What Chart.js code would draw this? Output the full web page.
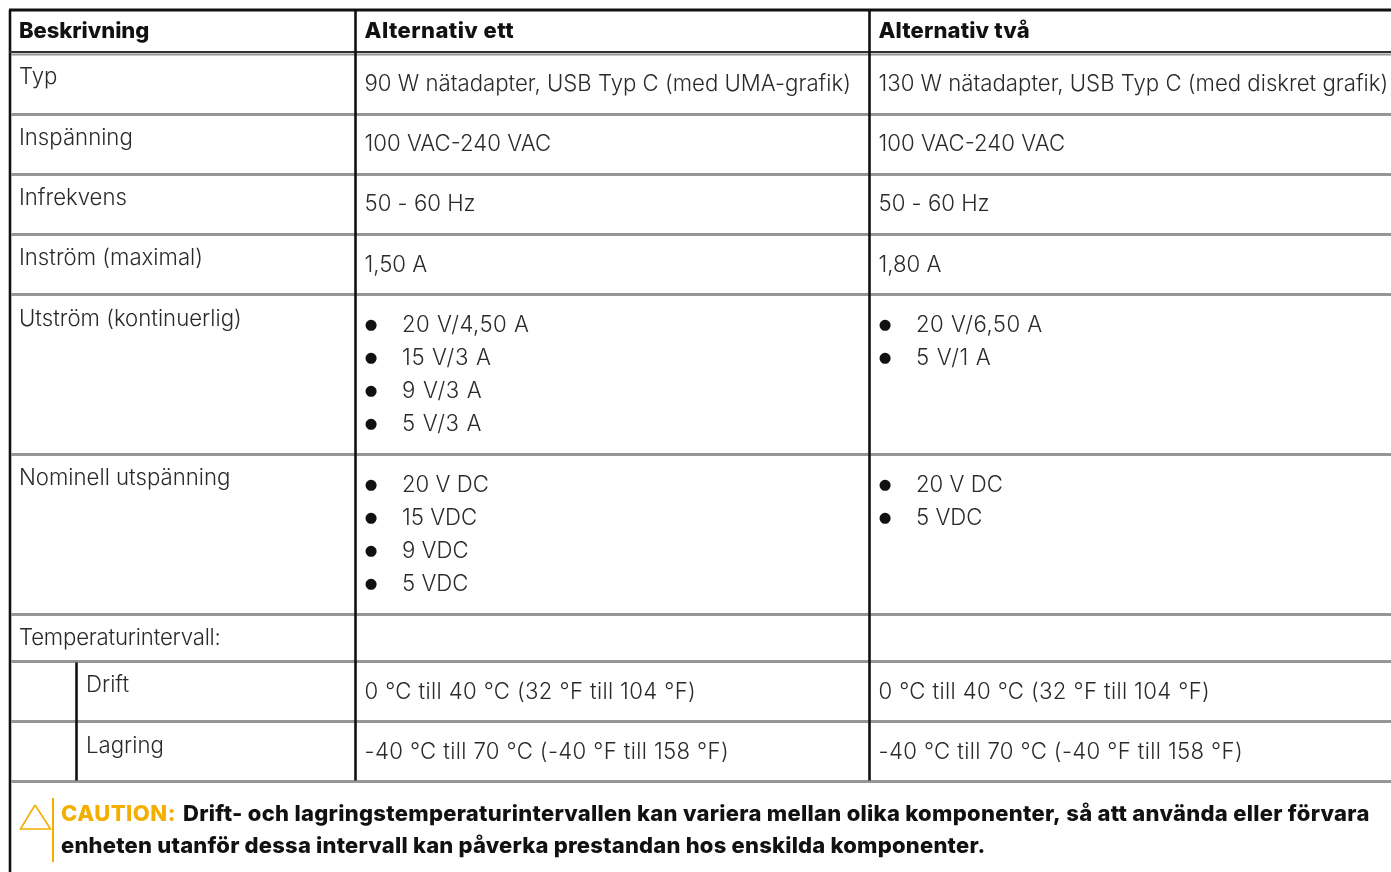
<!DOCTYPE html>
<html lang="sv">
<head>
<meta charset="utf-8">
<title>Nätadapter</title>
<script src="https://cdn.jsdelivr.net/npm/chart.js@4"></script>
<style>html,body{margin:0;padding:0;background:#fff;overflow:hidden}canvas{display:block}</style>
</head>
<body>
<canvas id="c" width="1391" height="872"></canvas>
<script>
const headers = ["Beskrivning", "Alternativ ett", "Alternativ två"];
const rowLabels = ["Typ", "Inspänning", "Infrekvens", "Inström (maximal)", "Utström (kontinuerlig)", "Nominell utspänning", "Temperaturintervall:", "Drift", "Lagring"];
const optionOne = [
  ["90 W nätadapter, USB Typ C (med UMA-grafik)"], ["100 VAC-240 VAC"], ["50 - 60 Hz"], ["1,50 A"],
  ["20 V/4,50 A", "15 V/3 A", "9 V/3 A", "5 V/3 A"], ["20 V DC", "15 VDC", "9 VDC", "5 VDC"], [],
  ["0 °C till 40 °C (32 °F till 104 °F)"], ["-40 °C till 70 °C (-40 °F till 158 °F)"]
];
const optionTwo = [
  ["130 W nätadapter, USB Typ C (med diskret grafik)"], ["100 VAC-240 VAC"], ["50 - 60 Hz"], ["1,80 A"],
  ["20 V/6,50 A", "5 V/1 A"], ["20 V DC", "5 VDC"], [],
  ["0 °C till 40 °C (32 °F till 104 °F)"], ["-40 °C till 70 °C (-40 °F till 158 °F)"]
];
const cautionLead = "CAUTION:";
const cautionLines = ["Drift- och lagringstemperaturintervallen kan variera mellan olika komponenter, så att använda eller förvara", "enheten utanför dessa intervall kan påverka prestandan hos enskilda komponenter."];

// layout
const W = 1391, H = 872;
const colEdges = [10, 355.5, 869.5];
const subColEdge = 76.5;
const topEdge = 10, headEdge = 52;
const rowEdges = [54.5, 114.5, 174.5, 234.5, 294.5, 454.5, 614.5, 661.5, 721.5, 781.5];
const labelBase = [84, 145, 205, 265, 326, 485, 645, 692, 753];
const valueBase = [91, 151, 211, 272, 332, 492, null, 699, 759];
const lineStep = 33;
const seg = (x1, y1, x2, y2, color, w) => ({data: [{x: x1, y: y1}, {x: x2, y: y2}], borderColor: color, borderWidth: w, pointRadius: 0, fill: false, tension: 0, borderCapStyle: 'butt'});
const datasets = [];
const BLACK = '#111', GREY = '#969696', AMBER = '#f2af00';
datasets.push(seg(colEdges[1], topEdge, colEdges[1], rowEdges[9] - 1, BLACK, 2.6));
datasets.push(seg(colEdges[2], topEdge, colEdges[2], rowEdges[9] - 1, BLACK, 2.6));
datasets.push(seg(subColEdge, rowEdges[7] + 1, subColEdge, rowEdges[9] - 1, BLACK, 2.6));
rowEdges.forEach((y, i) => datasets.push(seg(11, y, W, y, GREY, i === 0 ? 2 : 3)));
datasets.push(seg(9, topEdge, W, topEdge, BLACK, 2.8));
datasets.push(seg(9, headEdge, W, headEdge, '#333', 2));
datasets.push(seg(colEdges[0], topEdge, colEdges[0], H, BLACK, 2.6));
datasets.push(seg(53, 798, 53, 862, AMBER, 2));
datasets.push({data: [{x: 35, y: 805}, {x: 50.5, y: 829}, {x: 20.5, y: 829}, {x: 35, y: 805}], borderColor: AMBER, borderWidth: 1.6, pointRadius: 0, tension: 0, fill: false, borderJoinStyle: 'miter'});

const FAMILY = 'Inter, sans-serif';
const REG = '300 22.2px ' + FAMILY, BOLD = '800 22px ' + FAMILY;
const headerSpacing = [-0.05, 0.45, 0.15];
const tablePlugin = {
  id: 'tableText',
  afterDatasetsDraw(chart) {
    const {ctx, scales: {x, y}} = chart;
    const put = (t, px, py, font, color, spacing) => {
      ctx.font = font; ctx.fillStyle = color; ctx.textBaseline = 'alphabetic'; ctx.textAlign = 'left';
      ctx.letterSpacing = (spacing || 0) + 'px';
      ctx.fillText(t, x.getPixelForValue(px), y.getPixelForValue(py));
      return ctx.measureText(t).width;
    };
    ctx.save();
    const TXT = '#2a2a2a';
    const textX = [19, 364.5, 878.5];
    headers.forEach((h, i) => put(h, textX[i], 38, BOLD, '#111', headerSpacing[i]));
    rowLabels.forEach((t, i) => put(t, i >= 7 ? 86 : 19, labelBase[i], REG, TXT, t.endsWith(':') ? -0.2 : 0));
    const cells = (col, cx) => col.forEach((lines, i) => {
      lines.forEach((t, j) => {
        if (lines.length > 1) {
          put('●', cx + 0.3, valueBase[i] + j * lineStep - 3, '14.5px "DejaVu Sans"', '#111');
          put(t, cx + 37.5, valueBase[i] + j * lineStep, REG, TXT, t.includes('/') ? (t.length > 9 ? 0.45 : 0.65) : 0);
        } else put(t, cx, valueBase[i], REG, TXT, t.includes('°') ? 0.36 : 0);
      });
    });
    cells(optionOne, textX[1]);
    cells(optionTwo, textX[2]);
    put(cautionLead, 61, 821, BOLD, AMBER, 0.5);
    put(cautionLines[0], 183, 821, BOLD, '#111', 0.29);
    put(cautionLines[1], 61, 853, BOLD, '#111', 0.21);
    ctx.restore();
  }
};

new Chart(document.getElementById('c'), {
  type: 'scatter',
  data: {datasets: datasets.map(d => ({...d, showLine: true, clip: false}))},
  options: {
    responsive: false, animation: false, devicePixelRatio: 1,
    layout: {padding: 0},
    plugins: {legend: {display: false}, tooltip: {enabled: false}, title: {display: false}},
    scales: {
      x: {type: 'linear', min: 0, max: W, display: false},
      y: {type: 'linear', min: 0, max: H, reverse: true, display: false}
    }
  },
  plugins: [tablePlugin]
});
</script>
</body>
</html>
